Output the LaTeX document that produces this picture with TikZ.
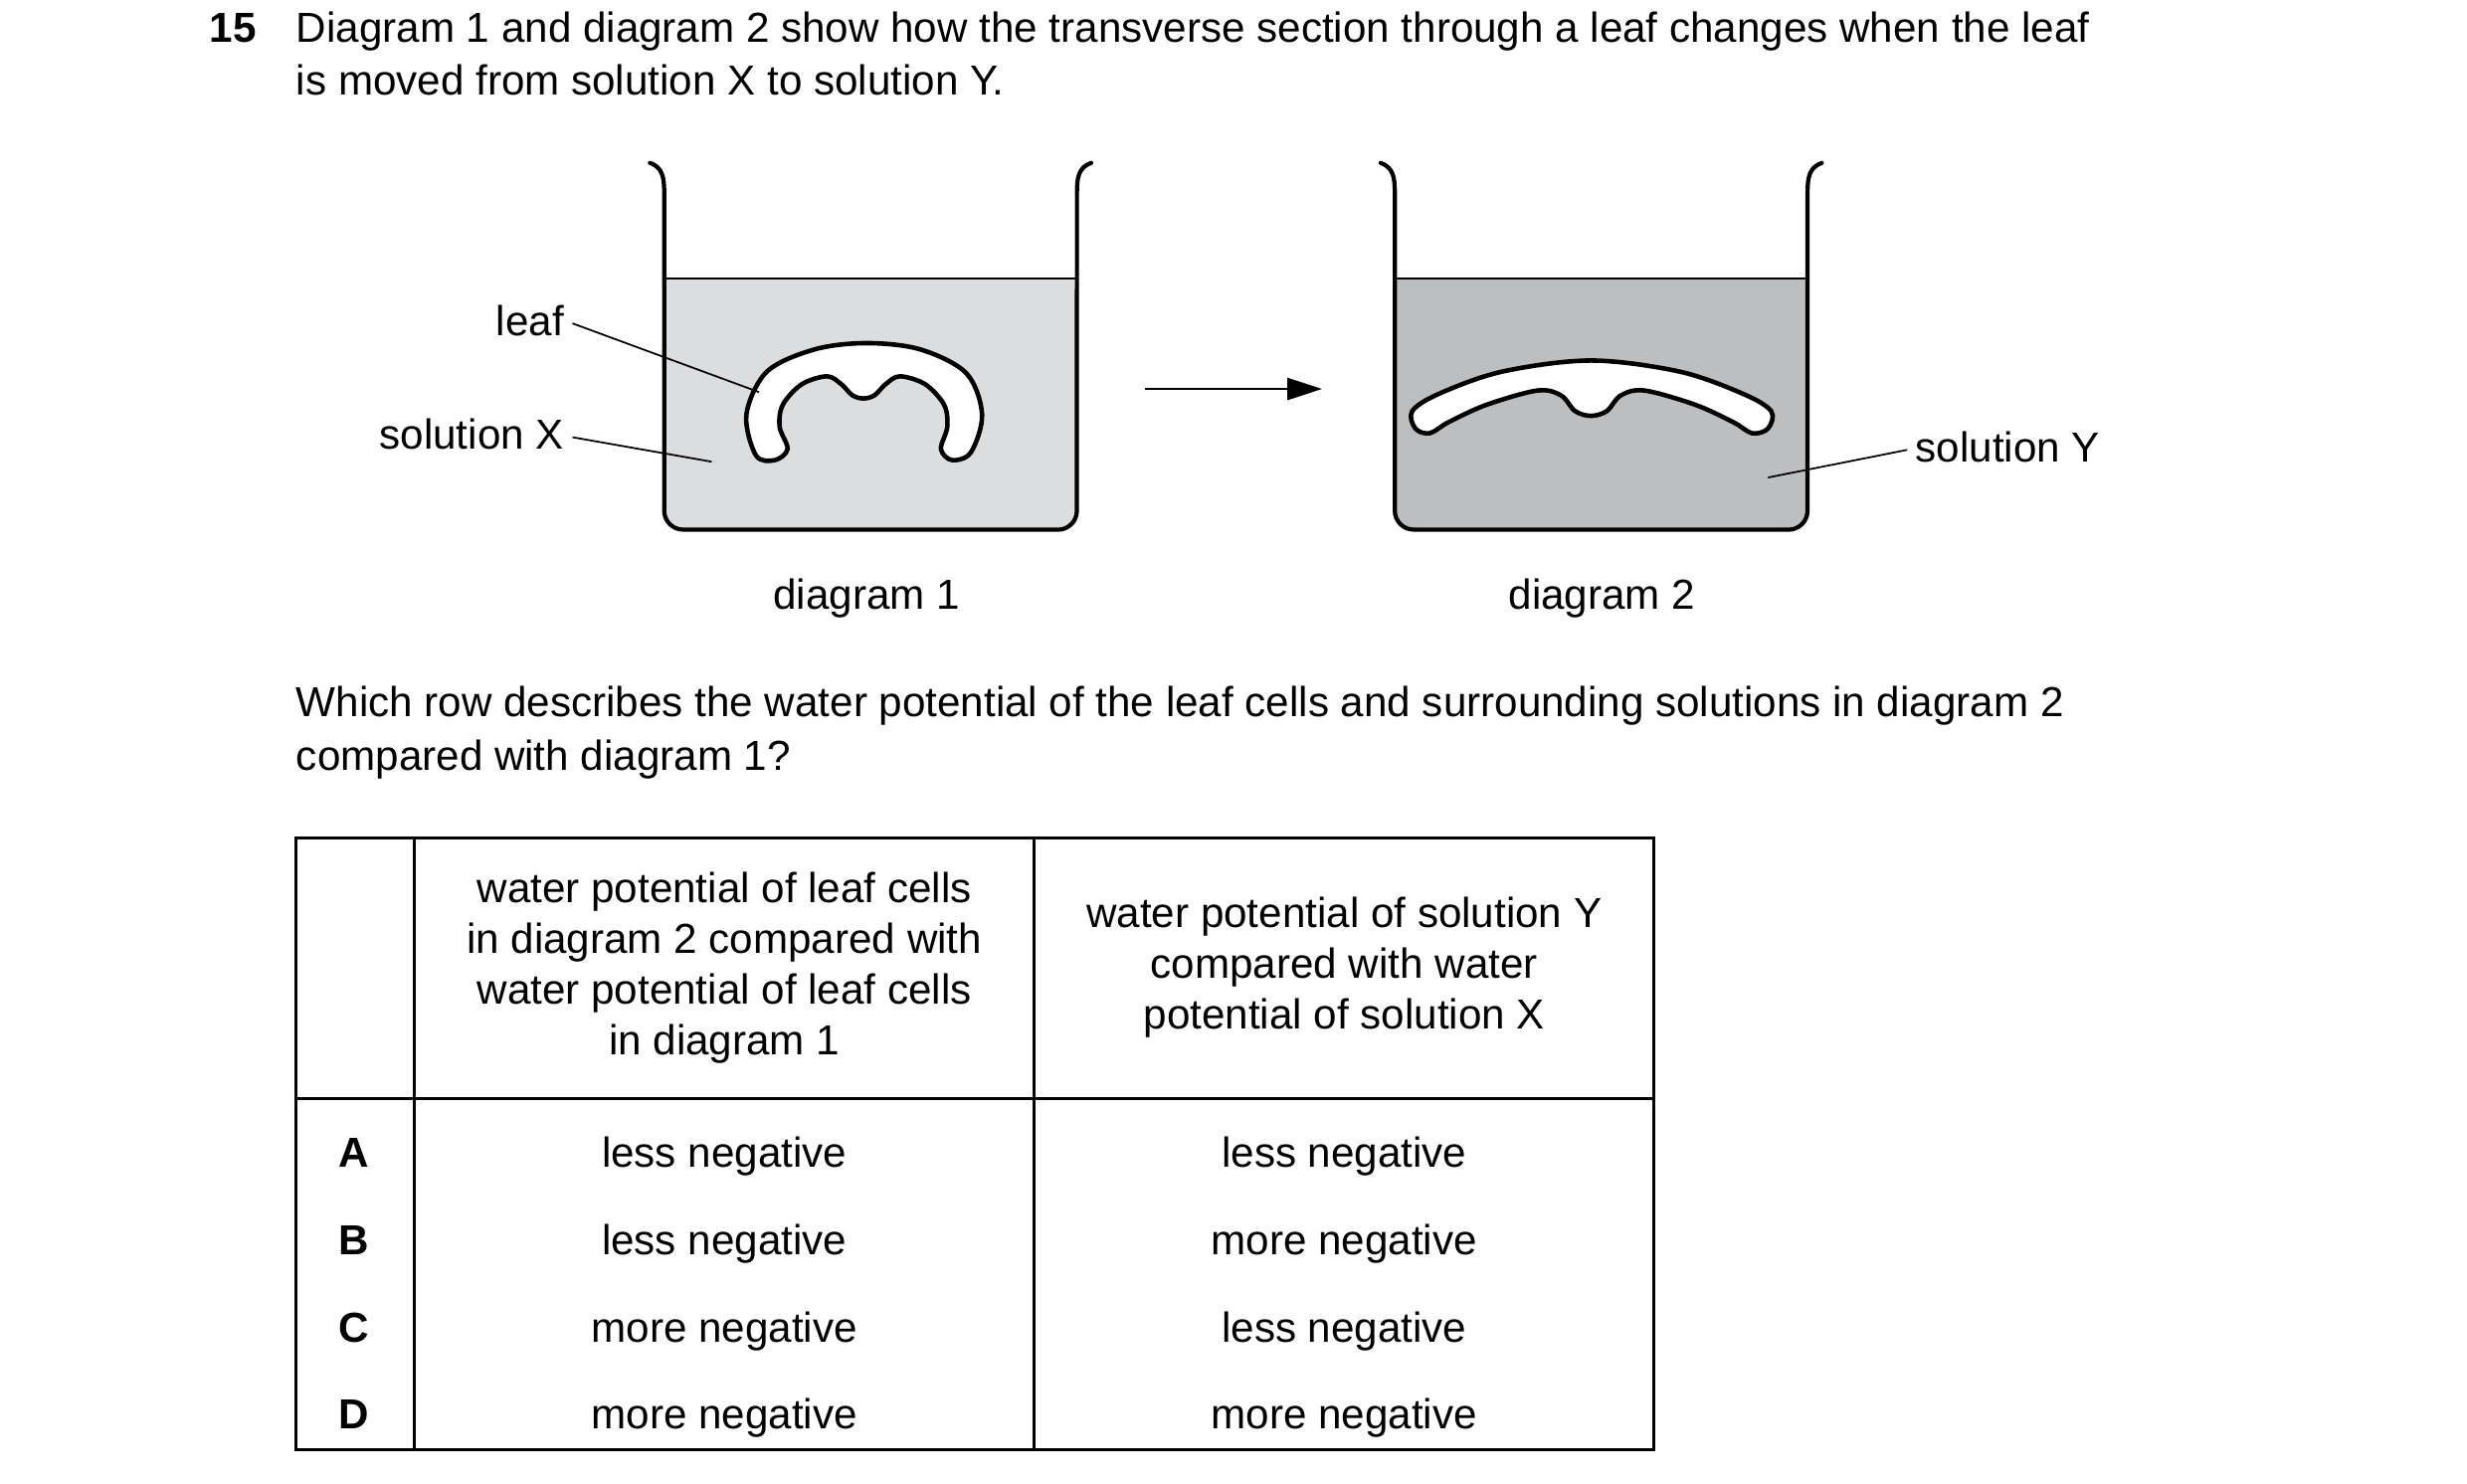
\documentclass[tikz,border=0pt]{standalone}
\usepackage{fontspec}
\setmainfont{Liberation Sans}
\usetikzlibrary{arrows.meta}
\usetikzlibrary{calc}
\definecolor{solX}{HTML}{DCDDDF}
\definecolor{solY}{HTML}{BDBEC0}
\tikzset{
	txt/.style={inner sep=0pt,font=\fontsize{12}{14.5}\selectfont},
	cell/.style={txt,align=center},
	pointer/.style={line width=0.5pt},
	glass/.style={line width=1.2pt,line cap=round},
	leaf/.style={draw,fill=white,line width=1.3pt}
}
\newcommand{\drawbeaker}[3]{
	\fill[#3] (#1,176) -- (#1,323) arc[start angle=180,end angle=270,radius=1.9mm] -- ($(#2,335)+(-12,0)$) arc[start angle=270,end angle=360,radius=1.9mm] -- (#2,176) -- cycle;
	\draw[line width=0.6pt] (#1,176) -- (#2,176);
	\draw[glass] ($(#1,103)+(-9,0)$) .. controls ($(#1,106)+(-1,0)$) and (#1,112) .. (#1,122) -- (#1,323) arc[start angle=180,end angle=270,radius=1.9mm] -- ($(#2,335)+(-12,0)$) arc[start angle=270,end angle=360,radius=1.9mm] -- (#2,122) .. controls (#2,112) and ($(#2,106)+(1,0)$) .. ($(#2,103)+(9,0)$);
}

\begin{document}
\begin{tikzpicture}[x=0.159mm,y=-0.159mm]
\useasboundingbox (0,0) rectangle (1560,938);
% question
\node[txt,font=\fontsize{12}{14.5}\selectfont\bfseries,anchor=base west] (qnum) at (132,27) {15};
\node[txt,anchor=base west] (q1) at (187,27) {Diagram 1 and diagram 2 show how the transverse section through a leaf changes when the leaf};
\node[txt,anchor=base west] (q2) at (187,60) {is moved from solution X to solution Y.};
% beakers
\drawbeaker{420}{681}{solX}
\drawbeaker{882}{1143}{solY}
\draw[leaf] plot[smooth cycle,tension=0.55] coordinates {(478,288) (472,262) (485,235) (515,221) (548,217) (582,221) (611,236) (621,262) (614,286) (602,291) (595,284) (599,270) (597,256) (585,243) (569,238) (560,243) (553,250) (546,252) (539,250) (532,243) (523,238) (507,243) (495,256) (493,270) (498,284) (490,291)};
\draw[leaf] plot[smooth cycle,tension=0.55] coordinates {(895,271) (893,260) (910,249) (950,235) (1006,228) (1062,235) (1102,249) (1120,260) (1118,271) (1108,274) (1096,267) (1072,256) (1040,247) (1025,250) (1016,260) (1006,263) (996,260) (987,250) (972,247) (940,256) (916,267) (904,274)};
% labels
\node[txt,anchor=base east] (lleaf) at (357,212) {leaf};
\node[txt,anchor=base east] (lsolX) at (357,284) {solution X};
\node[txt,anchor=base west] (lsolY) at (1211,292) {solution Y};
\coordinate (pleaf) at (480,248);
\coordinate (psolX) at (450,292);
\coordinate (psolY) at (1118,302);
\draw[pointer] ($(lleaf.east)+(5,2)$) -- (pleaf);
\draw[pointer] ($(lsolX.east)+(5,2)$) -- (psolX);
\draw[pointer] ($(lsolY.west)+(-5,2)$) -- (psolY);
\coordinate (arrA) at (724,246);
\coordinate (arrB) at (836,246);
\draw[line width=0.8pt,-{Triangle[length=3.5mm,width=2.2mm]}] (arrA) -- (arrB);
\node[txt,anchor=base] (d1) at (548,385) {diagram 1};
\node[txt,anchor=base] (d2) at (1013,385) {diagram 2};
\node[txt,anchor=base west] (w1) at (187,453) {Which row describes the water potential of the leaf cells and surrounding solutions in diagram 2};
\node[txt,anchor=base west] (w2) at (187,487) {compared with diagram 1?};
% table
\draw[line width=0.8pt] (187,530) rectangle (1046,917);
\draw[line width=0.8pt] (262,530) -- (262,917) (654,530) -- (654,917) (187,695) -- (1046,695);
\node[cell] (h1) at (458,612) {water potential of leaf cells\\in diagram 2 compared with\\water potential of leaf cells\\in diagram 1};
\node[cell] (h2) at (850,612) {water potential of solution Y\\compared with water\\potential of solution X};
\foreach \r/\a/\b [count=\i] in {A/less/less,B/less/more,C/more/less,D/more/more} {
	\node[txt,font=\fontsize{12}{14.5}\selectfont\bfseries,anchor=base] (k\i) at (224,738+55.3*\i-55.3) {\r};
	\node[txt,anchor=base] (a\i) at (458,738+55.3*\i-55.3) {\a\ negative};
	\node[txt,anchor=base] (b\i) at (850,738+55.3*\i-55.3) {\b\ negative};
}
\end{tikzpicture}
\end{document}
